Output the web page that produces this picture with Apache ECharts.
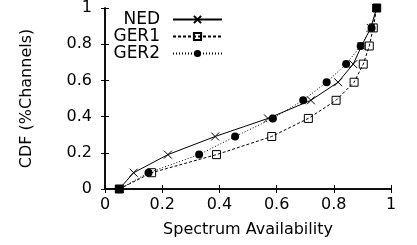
<!DOCTYPE html>
<html>
<head>
<meta charset="utf-8">
<style>
  html, body { margin: 0; padding: 0; background: #fff; }
  #chart { width: 417px; height: 245px; }
</style>
<script src="https://cdn.jsdelivr.net/npm/echarts@6/dist/echarts.min.js"></script>
</head>
<body>
<div id="chart"></div>
<script>
// CDF levels shared by all three curves
const cdfLevels = [0, 0.09, 0.19, 0.29, 0.39, 0.49, 0.59, 0.69, 0.79, 0.89, 1.0];

// spectrum availability for each level
const nedAvail  = [0.05, 0.10, 0.22, 0.385, 0.57, 0.72, 0.815, 0.868, 0.897, 0.929, 0.95];
const ger1Avail = [0.05, 0.163, 0.39, 0.583, 0.711, 0.808, 0.871, 0.903, 0.924, 0.938, 0.95];
const ger2Avail = [0.05, 0.152, 0.329, 0.455, 0.587, 0.693, 0.775, 0.843, 0.894, 0.932, 0.95];

const xTicks = [0, 0.2, 0.4, 0.6, 0.8, 1];
const yTicks = [0, 0.2, 0.4, 0.6, 0.8, 1];

const font = 'DejaVu Sans, sans-serif';

function pairs(xs, ys) {
    return xs.map(function (x, i) { return [x, ys[i]]; });
}

function tickFmt(list) {
    return function (v) {
        const r = +v.toFixed(1);
        return list.indexOf(r) >= 0 ? String(r) : '';
    };
}

(function () {
    const myChart = echarts.init(document.getElementById('chart'));

    // end points of GER1 look filled in the plot
    const ger1Data = pairs(ger1Avail, cdfLevels).map(function (p, i, arr) {
        if (i === 0 || i === arr.length - 1) {
            return { value: p, itemStyle: { color: '#000' } };
        }
        return p;
    });

    const axisCommon = {
        type: 'value',
        min: 0,
        max: 1,
        interval: 0.2,
        splitLine: { show: false },
        axisLine: { show: true, lineStyle: { color: '#000', width: 1.5 } },
        axisTick: { show: true, inside: true, length: 4, lineStyle: { color: '#000' } }
    };

    const option = {
        animation: false,
        grid: { left: 105, right: 26, top: 7, bottom: 56 },
        legend: {
            orient: 'vertical',
            left: 103,
            top: 6,
            align: 'right',
            itemGap: 0,
            itemWidth: 49,
            itemHeight: 9,
            textStyle: {
                fontFamily: font, fontSize: 17, color: '#000',
                width: 52, align: 'right', lineHeight: 16.5,
                padding: [0, 8, 0, 0]
            },
            data: ['NED', 'GER1', 'GER2']
        },
        xAxis: [
            Object.assign({}, axisCommon, {
                position: 'bottom',
                name: 'Spectrum Availability',
                nameLocation: 'middle',
                nameGap: 33,
                nameTextStyle: { fontFamily: font, fontSize: 16, color: '#000' },
                axisLabel: {
                    fontFamily: font, fontSize: 16, color: '#000', margin: 8,
                    formatter: tickFmt(xTicks)
                }
            }),
            Object.assign({}, axisCommon, {
                position: 'top',
                axisLabel: { show: false }
            })
        ],
        yAxis: [
            Object.assign({}, axisCommon, {
                position: 'left',
                name: 'CDF (%Channels)',
                nameLocation: 'middle',
                nameGap: 70,
                nameTextStyle: { fontFamily: font, fontSize: 16, color: '#000' },
                axisLabel: {
                    fontFamily: font, fontSize: 16, color: '#000', margin: 13,
                    formatter: tickFmt(yTicks)
                }
            }),
            Object.assign({}, axisCommon, {
                position: 'right',
                axisLabel: { show: false }
            })
        ],
        series: [
            {
                name: 'NED',
                type: 'line',
                data: pairs(nedAvail, cdfLevels),
                symbol: 'path://M0,0L10,10M10,0L0,10',
                symbolSize: 8,
                showAllSymbol: true,
                lineStyle: { color: '#000', width: 1, type: 'solid' },
                itemStyle: { color: 'none', borderColor: '#000', borderWidth: 1 },
                z: 3
            },
            {
                name: 'GER1',
                type: 'line',
                data: ger1Data,
                symbol: 'rect',
                symbolSize: 8,
                showAllSymbol: true,
                lineStyle: { color: '#000', width: 1, type: [3, 2] },
                itemStyle: { color: 'rgba(255,255,255,0)', borderColor: '#000', borderWidth: 1 },
                z: 2
            },
            {
                name: 'GER2',
                type: 'line',
                data: pairs(ger2Avail, cdfLevels),
                symbol: 'circle',
                symbolSize: 8,
                showAllSymbol: true,
                lineStyle: { color: '#000', width: 1, type: [1, 2] },
                itemStyle: { color: '#000', borderColor: '#000', borderWidth: 0 },
                z: 2
            }
        ]
    };

    myChart.setOption(option);
    window.addEventListener('resize', function () {
        myChart.resize();
    });
})();
</script>
</body>
</html>
